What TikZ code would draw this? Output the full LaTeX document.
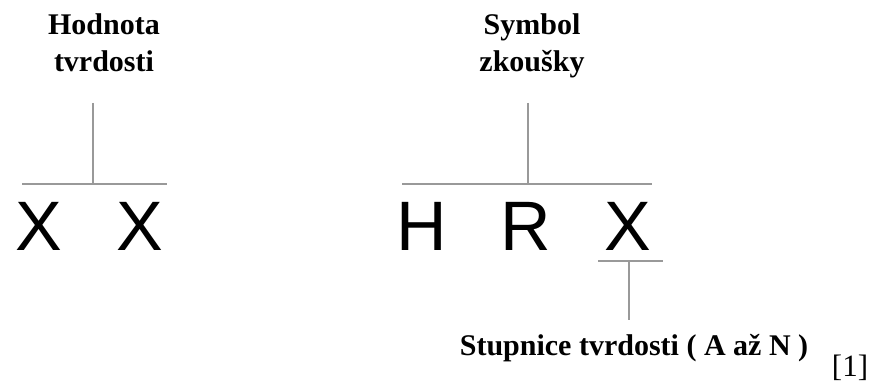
\documentclass[tikz,border=0pt]{standalone}
\usepackage{fontspec}
\setmainfont{Liberation Serif}
\newfontfamily\codefont{Liberation Sans}
\begin{document}
\begin{tikzpicture}[x=1pt,y=-1pt,
  heading/.style={font=\fontsize{30}{37}\selectfont\bfseries, align=center, inner sep=0pt, anchor=base},
  letter/.style={font=\codefont\fontsize{70}{70}\selectfont, inner sep=0pt, anchor=base},
  rule/.style={draw=black!40, line width=1.1pt}]
\useasboundingbox (0,0) rectangle (877,385);

% code letters
\node[letter] (x1) at (38.5,250) {X};
\node[letter] (x2) at (140,250) {X};
\node[letter] (h) at (422,250) {H};
\node[letter] (r) at (526,250) {R};
\node[letter] (x3) at (628,250) {X};

% headings (base anchor sits on the last line)
\node[heading] (hod) at (104,72) {Hodnota\\tvrdosti};
\node[heading] (sym) at (532,72) {Symbol\\zkoušky};
\node[heading] (stup) at (634,355) {Stupnice tvrdosti ( A až N )};
\node[font=\fontsize{31}{31}\selectfont, inner sep=0pt, anchor=base] (ref) at (850,376) {[1]};

% brackets and leader lines
\coordinate (hodtop) at (93,103);
\coordinate (hodbar) at (93,184);
\coordinate (hodL) at (22,184);
\coordinate (hodR) at (167,184);
\draw[rule] (hodL) -- (hodR);
\draw[rule] (hodtop) -- (hodbar);

\coordinate (symtop) at (528,103);
\coordinate (symbar) at (528,184);
\coordinate (symL) at (402,184);
\coordinate (symR) at (652,184);
\draw[rule] (symL) -- (symR);
\draw[rule] (symtop) -- (symbar);

\coordinate (scL) at (598,261);
\coordinate (scR) at (663,261);
\coordinate (scbar) at (629,261);
\coordinate (scbot) at (629,320);
\draw[rule] (scL) -- (scR);
\draw[rule] (scbar) -- (scbot);
\end{tikzpicture}
\end{document}
